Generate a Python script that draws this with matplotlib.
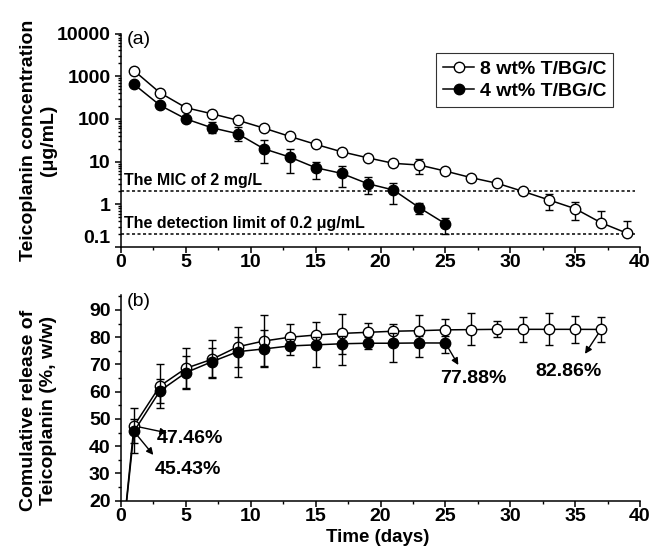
import numpy as np
import matplotlib
matplotlib.use('Agg')
import matplotlib.pyplot as plt
from matplotlib.ticker import MultipleLocator
from matplotlib.lines import Line2D

plt.rcParams['font.family'] = ['Liberation Sans', 'DejaVu Sans']
plt.rcParams['font.weight'] = 'bold'
plt.rcParams['axes.linewidth'] = 1.1

# (a) concentration, ug/mL
days8 = [1, 3, 5, 7, 9, 11, 13, 15, 17, 19, 21, 23, 25, 27, 29, 31, 33, 35, 37, 39]
conc8 = [1350, 410, 183, 132, 93, 61, 39, 25.4, 17, 12.3, 9.1, 8.3, 6.0, 4.2, 3.1, 2.0, 1.26, 0.79, 0.37, 0.21]
conc8_hi = [1500, 455, 205, 155, 103, 68, 45, 30, 19.5, 13.7, 10.5, 11.7, 7.2, 4.6, 3.3, 2.3, 1.71, 1.15, 0.70, 0.41]
conc8_lo = [1230, 370, 165, 112, 84, 55, 34, 22, 15, 11, 7.9, 5.2, 5.0, 3.8, 2.9, 1.75, 0.72, 0.42, 0.37, 0.21]

days4 = [1, 3, 5, 7, 9, 11, 13, 15, 17, 19, 21, 23, 25]
conc4 = [646, 209, 100, 62, 45, 20, 12.8, 7.2, 5.3, 3.05, 2.16, 0.83, 0.35]
conc4_hi = [720, 245, 118, 84, 64, 31.6, 20, 10, 7.9, 4.4, 3.2, 1.09, 0.47]
conc4_lo = [580, 180, 85, 46, 31, 9.1, 5.3, 4.0, 2.5, 1.78, 1.0, 0.58, 0.2]

mic = 2
det_limit = 0.2

# (b) cumulative release, %
rdays8 = [0] + days8[:-1]
rel8 = [0, 47.46, 62.1, 68.6, 71.9, 76.5, 78.6, 80.0, 80.8, 81.4, 81.8, 82.2, 82.4, 82.7, 82.8, 82.9, 82.9, 82.9, 82.9, 82.86]
rel8_hi = [0, 54, 70, 75.9, 79, 83.9, 88.2, 84.9, 85.7, 88.5, 85.3, 84.9, 88.2, 86.7, 88.8, 86.1, 87.3, 88.8, 87.9, 87.5]
rel8_lo = [0, 41, 54, 61.3, 65, 69, 69.5, 75.5, 76, 74, 78.3, 79.5, 76.5, 78.7, 77.2, 80.0, 78.4, 77.2, 78.0, 78.4]

rdays4 = [0] + days4
rel4 = [0, 45.43, 60.3, 67.0, 71.0, 74.7, 75.7, 76.8, 77.2, 77.6, 77.8, 77.8, 77.9, 77.88]
rel4_hi = [0, 50, 64.5, 73, 76, 80, 82.5, 79.5, 80, 80.5, 80, 81.5, 80.5, 80.5]
rel4_lo = [0, 37.4, 56, 61, 65.5, 65.3, 69.2, 73.5, 69.2, 69.8, 75.5, 71, 72.9, 74.1]

labels = ['8 wt% T/BG/C', '4 wt% T/BG/C']


def yerr(v, lo, hi):
    v, lo, hi = np.array(v), np.array(lo), np.array(hi)
    return [v - lo, hi - v]


def style_axis(ax):
    for s in ['top', 'right']:
        ax.spines[s].set_visible(False)
    ax.set_xlim(0, 40)
    ax.xaxis.set_major_locator(MultipleLocator(5))
    ax.xaxis.set_minor_locator(MultipleLocator(2.5))
    ax.tick_params(which='major', direction='out', length=4, width=1.1, labelsize=14)
    ax.tick_params(which='minor', direction='out', length=2.5, width=1.0)


fig = plt.figure(figsize=(6.54, 5.49), dpi=100)
W, H = 654.0, 549.0
ax1 = fig.add_axes([121 / W, 1 - 247 / H, 519 / W, 213.5 / H])
ax2 = fig.add_axes([121 / W, 1 - 500.7 / H, 519 / W, 205.7 / H])

ebkw = dict(color='black', ecolor='black', elinewidth=1.0, capsize=3, capthick=1.0,
            lw=1.1, ms=7.5, mew=1.0)

# ---- (a)
ax1.set_yscale('log')
ax1.errorbar(days8, conc8, yerr=yerr(conc8, conc8_lo, conc8_hi), marker='o',
             mfc='white', mec='black', zorder=3, **ebkw)
ax1.errorbar(days4, conc4, yerr=yerr(conc4, conc4_lo, conc4_hi), marker='o',
             mfc='black', mec='black', zorder=3, **ebkw)
ax1.hlines([mic, det_limit], 0, 39.6, colors='black', linestyles=(0, (2, 1.6)), lw=1.1)
ax1.text(0.2, mic * 1.18, 'The MIC of 2 mg/L', fontsize=11.5, va='bottom')
ax1.text(0.2, det_limit * 1.18, 'The detection limit of 0.2 \u03bcg/mL', fontsize=11.5, va='bottom')
ax1.text(0.012, 0.97, '(a)', transform=ax1.transAxes, fontsize=14, fontweight='normal',
         va='center', ha='left')
style_axis(ax1)
ax1.set_ylim(0.1, 10000)
ax1.set_yticks([0.1, 1, 10, 100, 1000, 10000])
ax1.set_yticklabels(['0.1', '1', '10', '100', '1000', '10000'])
ax1.tick_params(axis='x', pad=1)
ax1.yaxis.get_major_ticks()[0].label1.set_verticalalignment('bottom')

handles = [Line2D([], [], color='black', lw=1.1, marker='o', ms=7.5, mfc='white', mec='black'),
           Line2D([], [], color='black', lw=1.1, marker='o', ms=7.5, mfc='black', mec='black')]
leg = ax1.legend(handles, labels, loc='upper right', bbox_to_anchor=(0.9486, 0.907),
                 borderaxespad=0, fontsize=14, frameon=True, fancybox=False,
                 handlelength=1.6, handletextpad=0.3, borderpad=0.35, labelspacing=0.25)
leg.get_frame().set_edgecolor('black')
leg.get_frame().set_linewidth(0.8)

# ---- (b)
ax2.errorbar(rdays8, rel8, yerr=yerr(rel8, rel8_lo, rel8_hi), marker='o',
             mfc='white', mec='black', zorder=3, **ebkw)
ax2.errorbar(rdays4, rel4, yerr=yerr(rel4, rel4_lo, rel4_hi), marker='o',
             mfc='black', mec='black', zorder=4, **ebkw)
style_axis(ax2)
ax2.set_ylim(20, 95.5)
ax2.yaxis.set_major_locator(MultipleLocator(10))
ax2.yaxis.set_minor_locator(MultipleLocator(5))
ax2.tick_params(axis='x', pad=1.5)
ax2.text(0.012, 0.966, '(b)', transform=ax2.transAxes, fontsize=14, fontweight='normal',
         va='center', ha='left')

arrow = dict(arrowstyle='-|>', color='black', lw=1.0, mutation_scale=10, shrinkA=0, shrinkB=0)
ax2.annotate('', xy=(3.55, 44.9), xytext=(1, rel8[1]), arrowprops=arrow)
ax2.annotate('', xy=(2.49, 36.8), xytext=(1, rel4[1]), arrowprops=arrow)
ax2.annotate('', xy=(26.0, 69.8), xytext=(25, rel4[-1]), arrowprops=arrow)
ax2.annotate('', xy=(35.76, 73.9), xytext=(37, rel8[-1]), arrowprops=arrow)
ax2.text(2.77, 42.7, '47.46%', fontsize=14, va='center', ha='left')
ax2.text(2.62, 31.3, '45.43%', fontsize=14, va='center', ha='left')
ax2.text(24.6, 64.9, '77.88%', fontsize=14, va='center', ha='left')
ax2.text(31.9, 67.4, '82.86%', fontsize=14, va='center', ha='left')

fig.text(38.5 / W, 1 - 140 / H, 'Teicoplanin concentration\n(\u03bcg/mL)', rotation=90,
         ha='center', va='center', fontsize=14, multialignment='center')
fig.text(38.5 / W, 1 - 410 / H, 'Comulative release of\nTeicoplanin (%, w/w)', rotation=90,
         ha='center', va='center', fontsize=14, multialignment='center')
fig.text(378 / W, 1 - 537 / H, 'Time (days)', ha='center', va='center', fontsize=13.5)

fig.savefig('out.png', dpi=100)
